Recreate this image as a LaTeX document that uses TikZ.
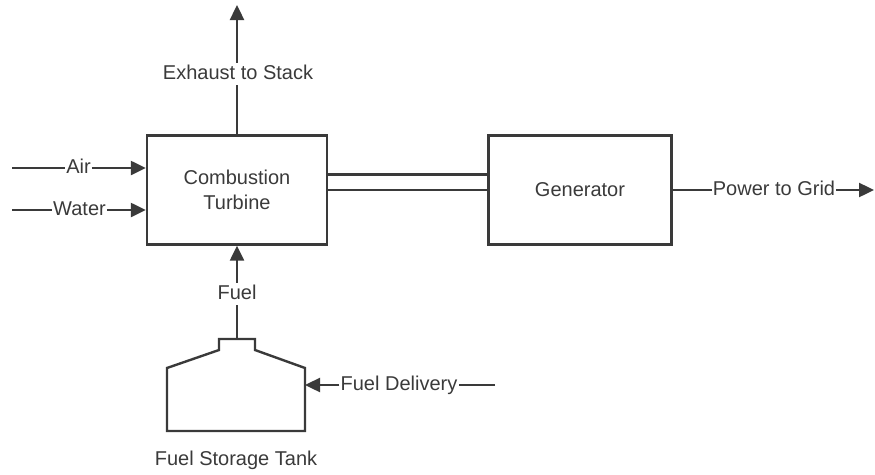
\documentclass[tikz,border=0pt]{standalone}
\usepackage{fontspec}
\setmainfont{Liberation Sans}
\usetikzlibrary{arrows.meta}
\definecolor{ink}{HTML}{3A3A3A}
\begin{document}
\begin{tikzpicture}[x=1pt,y=-1pt,
 line/.style={draw=ink,line width=2.4pt},
 arr/.style={line,-{Triangle[length=15pt,width=14pt]}},
 box/.style={draw=ink,line width=2.4pt,minimum width=180pt,minimum height=109pt,inner sep=0pt,align=center,font=\fontsize{20}{25}\selectfont,text=ink},
 lbl/.style={font=\fontsize{20}{24}\selectfont,text=ink,inner sep=2pt,text height=14pt,text depth=4pt}]
\useasboundingbox (0,0) rectangle (875,474);
% main boxes
\node[box] (turb) at (237,190) {Combustion\\Turbine};
\node[box,minimum width=183pt] (gen) at (580,190) {Generator};
% shaft
\draw[line] (turb.east) -- (gen.west);
\draw[line] ([yshift=15.5pt]turb.east) -- ([yshift=15.5pt]gen.west);
% exhaust
\node[lbl] (exh) at (238,74) {Exhaust to Stack};
\coordinate (stack) at (237,5);
\draw[line] (turb.north) -- (turb.north |- exh.south);
\draw[arr] (turb.north |- exh.north) -- (stack);
% air and water
\coordinate (airS) at (12,168);
\node[lbl,inner sep=1pt] (air) at (78.5,168) {Air};
\draw[line] (airS) -- (air.west);
\draw[arr] (air.east) -- (turb.west |- air.east);
\coordinate (waterS) at (12,210);
\node[lbl,inner sep=1pt] (water) at (79.5,210) {Water};
\draw[line] (waterS) -- (water.west);
\draw[arr] (water.east) -- (turb.west |- water.east);
% power
\node[lbl,inner sep=1pt] (pwr) at (774,190) {Power to Grid};
\coordinate (grid) at (874,190);
\draw[line] (gen.east) -- (pwr.west);
\draw[arr] (pwr.east) -- (grid);
% tank
\draw[line,line join=miter] (219,339) -- (255,339) -- (255,350) -- (305,368) -- (305,431) -- (167,431) -- (167,368) -- (219,350) -- cycle;
\coordinate (tanktop) at (237,339);
\coordinate (tankside) at (305,385);
\node[lbl] (fuel) at (237,294) {Fuel};
\draw[line] (tanktop) -- (fuel.south);
\draw[arr] (fuel.north) -- (turb.south);
\node[lbl,inner sep=1pt] (deliv) at (399,385) {Fuel Delivery};
\coordinate (delivS) at (495,385);
\draw[line] (delivS) -- (deliv.east);
\draw[arr] (deliv.west) -- (tankside);
\node[lbl] (tanklbl) at (236,460) {Fuel Storage Tank};
\end{tikzpicture}
\end{document}
